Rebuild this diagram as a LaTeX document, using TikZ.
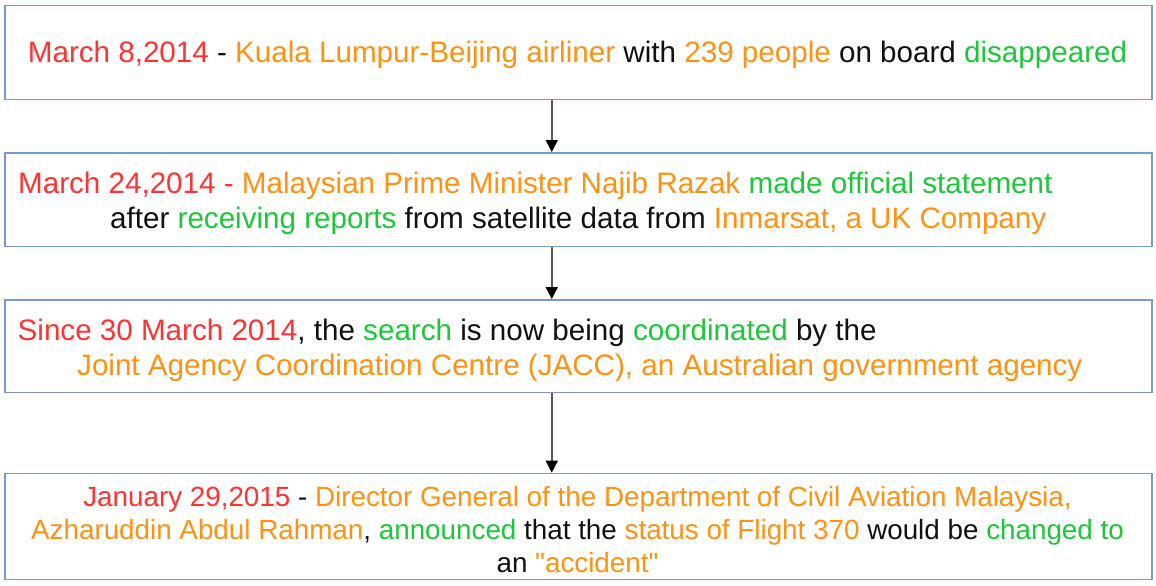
\documentclass[tikz,border=0pt]{standalone}
\usepackage{fontspec}
\setmainfont{Liberation Sans}[Ligatures = TeXOff]
\usetikzlibrary{arrows.meta}

\definecolor{boxblue}{HTML}{7C9AC8}
\definecolor{linkgray}{HTML}{5A5A5A}
\definecolor{datered}{HTML}{FF3333}
\definecolor{nameorange}{HTML}{FF9212}
\definecolor{actgreen}{HTML}{1DC73A}
\definecolor{plaintext}{HTML}{111111}

\newcommand{\dt}[1]{\textcolor{datered}{#1}}
\newcommand{\nm}[1]{\textcolor{nameorange}{#1}}
\newcommand{\act}[1]{\textcolor{actgreen}{#1}}

\begin{document}
\begin{tikzpicture}[x = 1pt, y = -1pt]
\tikzstyle{BoxStyle}=[draw = boxblue, line width = 1.5pt,
							anchor = north west,
							minimum width = 1147pt,
                         					inner sep = 0pt]
\tikzstyle{LineStyle}=[inner sep = 0pt, text = plaintext,
							font = \fontsize{29.6}{35}\selectfont]
\tikzstyle{SmallLineStyle}=[LineStyle, font = \fontsize{27.8}{33}\selectfont]
\tikzstyle{LinkStyle}=[draw = linkgray, line width = 1.5pt,
							-{Triangle[width = 12pt, length = 12pt, color = black]}]
\useasboundingbox (0,0) rectangle (1156,586);
% boxes
\node[BoxStyle, minimum height = 93.5pt] (e1) at (4,5) {};
\node[BoxStyle, minimum height = 93.7pt] (e2) at (4,152) {};
\node[BoxStyle, minimum height = 92.7pt] (e3) at (4,299) {};
\node[BoxStyle, minimum height = 106pt] (e4) at (4,472.7) {};
% texts
\node[LineStyle, anchor = base] (t1) at (577.5,63) {\dt{March 8,2014} - \nm{Kuala Lumpur-Beijing airliner} with \nm{239 people} on board \act{disappeared}};
\node[LineStyle, anchor = base west] (t2a) at (18,193) {\dt{March 24,2014 -} \nm{Malaysian Prime Minister Najib Razak} \act{made official statement}};
\node[LineStyle, anchor = base west] (t2b) at (110,228.5) {after \act{receiving reports} from satellite data from \nm{Inmarsat, a UK Company}};
\node[LineStyle, anchor = base west] (t3a) at (17.5,340) {\dt{Since 30 March 2014}, the \act{search} is now being \act{coordinated} by the};
\node[LineStyle, anchor = base west] (t3b) at (77,375.5) {\nm{Joint Agency Coordination Centre (JACC), an Australian government agency}};
\node[SmallLineStyle, anchor = base] (t4a) at (577.5,506.5) {\dt{January 29,2015} - \nm{Director General of the Department of Civil Aviation Malaysia,}};
\node[SmallLineStyle, anchor = base] (t4b) at (577.5,539.8) {\nm{Azharuddin Abdul Rahman}, \act{announced} that the \nm{status of Flight 370} would be \act{changed to}};
\node[SmallLineStyle, anchor = base] (t4c) at (577.5,572.5) {an \nm{"accident"}};
% links
\draw[LinkStyle] ([xshift = -26.5pt]e1.south) -- ([xshift = -26.5pt]e2.north);
\draw[LinkStyle] ([xshift = -26.5pt]e2.south) -- ([xshift = -26.5pt]e3.north);
\draw[LinkStyle] ([xshift = -26.5pt]e3.south) -- ([xshift = -26.5pt]e4.north);
\end{tikzpicture}
\end{document}
